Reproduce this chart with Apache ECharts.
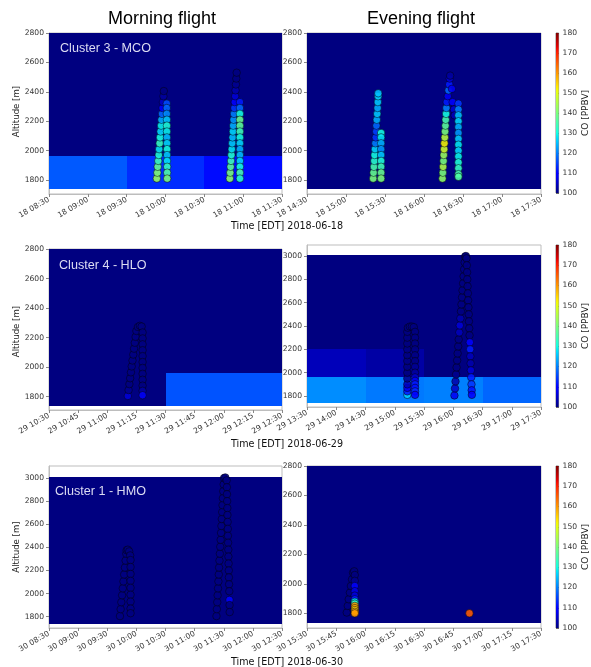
<!DOCTYPE html>
<html><head><meta charset="utf-8">
<script src="https://cdn.jsdelivr.net/npm/echarts@6/dist/echarts.min.js"></script>
<style>html,body{margin:0;padding:0;background:#fff}#c{width:591px;height:667px}</style>
</head><body><div id="c"></div>
<script>
// ---------------- DATA ----------------
const coTicks = [100, 110, 120, 130, 140, 150, 160, 170, 180];
const colorbarData = [[0, 100, 1, 180]];
const panelDays = ['18', '18', '29', '29', '30', '30'];
const xRanges = [[510, 690], [870, 1050], [630, 750], [810, 1050], [510, 750], [930, 1050]]; // minutes since midnight (EDT)
const xIntervals = [30, 30, 15, 30, 30, 15];
const yRanges = [[1705, 2800], [1705, 2800], [1710, 2800], [1706, 3094], [1702, 3104], [1700, 2800]];
const yTicksLow = [1800, 2000, 2200, 2400, 2600, 2800];
const yTicksHigh = [1800, 2000, 2200, 2400, 2600, 2800, 3000];
const panelTitles = ['Morning flight', 'Evening flight'];
const clusterLabels = ['Cluster 3 - MCO', 'Cluster 4 - HLO', 'Cluster 1 - HMO'];
const timeLabels = ['Time [EDT] 2018-06-18', 'Time [EDT] 2018-06-29', 'Time [EDT] 2018-06-30'];

// background CO cells: [t0, alt0, CO, t1, alt1]
const p1Cells = [[510,1737,117,570,1963],[570,1737,113.5,630,1963],[630,1737,110.8,690,1963],[510,1963,100,690,3010]];
const p2Cells = [[870,1737,100,1050,3010]];
const p3Cells = [[630,1737,100,690,1963],[690,1737,116.5,750,1963],[630,1963,100,750,3010]];
const p4Cells = [[810,1737,121,870,1963],[870,1737,119.5,930,1963],[930,1737,120,990,1963],[990,1737,118,1050,1963],
                 [810,1963,104,870,2200],[870,1963,102.5,930,2200],[930,1963,100,1050,2200],[810,2200,100,1050,3010]];
const p5Cells = [[510,1737,100,750,3010]];
const p6Cells = [[930,1737,100,1050,3010]];

// flight points: [time (min), altitude (m), CO (ppbv)]
const p1Points = [
 [593.3,1810,143],[593.7,1850,141],[594.0,1890,138],[594.4,1930,134],[594.8,1970,131],[595.1,2010,128],[595.5,2050,133],[595.8,2090,130],[596.2,2130,127],[596.6,2170,129],[596.9,2210,124],[597.3,2250,118],[597.7,2290,110],[598.0,2330,105],[598.4,2370,102],[598.7,2405,100],
 [601.0,2320,116],[601.0,2290,118],[601.0,2250,121],[601.1,2210,126],[601.1,2170,131],[601.1,2130,129],[601.1,2090,125],[601.2,2050,127],[601.2,2010,130],[601.2,1970,126],[601.2,1930,128],[601.3,1890,133],[601.3,1850,136],[601.3,1810,140],
 [649.7,1810,142],[650.0,1850,140],[650.3,1890,137],[650.6,1930,134],[650.9,1970,131],[651.2,2010,128],[651.5,2050,126],[651.8,2090,125],[652.1,2130,127],[652.3,2170,124],[652.6,2210,122],[652.9,2250,120],[653.2,2290,114],[653.5,2330,110],[653.8,2370,106],[654.1,2410,103],[654.4,2450,101],[654.7,2490,100],[655.0,2530,100],
 [657.5,2330,112],[657.5,2290,118],[657.5,2250,130],[657.5,2210,138],[657.5,2170,137],[657.5,2130,134],[657.5,2090,130],[657.5,2050,127],[657.5,2010,124],[657.5,1970,125],[657.5,1930,127],[657.5,1890,130],[657.5,1850,135],[657.5,1810,132]
];
const p2Points = [
 [920.9,1810,140],[921.2,1850,138],[921.5,1890,135],[921.8,1930,132],[922.0,1970,130],[922.3,2010,127],[922.6,2050,120],[922.9,2090,114],[923.2,2130,115],[923.4,2170,118],[923.7,2210,124],[924.0,2250,126],[924.3,2290,124],[924.5,2330,126],[924.7,2370,127],[924.8,2390,125],
 [927.0,2120,130],[927.0,2090,128],[927.0,2050,124],[927.0,2010,122],[927.0,1970,126],[927.0,1930,131],[927.0,1890,134],[927.0,1850,138],[927.0,1810,140],
 [974.2,1810,142],[974.5,1850,140],[974.7,1890,145],[975.0,1930,140],[975.2,1970,143],[975.5,2010,148],[975.7,2050,152],[976.0,2090,146],[976.2,2130,140],[976.5,2170,137],[976.7,2210,135],[977.0,2250,130],[977.2,2290,120],[977.5,2330,112],[978.3,2370,108],[978.9,2410,118],[979.4,2450,112],[979.8,2490,106],[980.1,2510,102],
 [981.5,2420,108],[982.0,2330,110],[983.0,2280,106],[983.5,2240,104],
 [986.5,2320,114],[986.5,2280,120],[986.5,2240,125],[986.5,2200,127],[986.5,2160,124],[986.5,2120,122],[986.5,2080,126],[986.5,2040,128],[986.5,2000,127],[986.5,1960,129],[986.5,1920,131],[986.5,1880,133],[986.5,1840,135],[986.5,1822,136]
];
const p3Points = [
 [670.6,1805,106],[671.0,1845,101],[671.4,1885,100],[671.8,1925,100],[672.2,1965,100],[672.6,2005,100],[673.0,2045,100],[673.4,2085,100],[673.8,2125,100],[674.2,2165,100],[674.6,2205,100],[675.0,2245,100],[675.8,2272,100],[676.8,2280,100],[677.7,2275,100],
 [678.2,2235,100],[678.2,2195,100],[678.2,2155,100],[678.2,2115,100],[678.2,2075,100],[678.2,2035,100],[678.2,1995,100],[678.2,1955,100],[678.2,1915,100],[678.2,1875,100],[678.2,1840,102],[678.2,1810,109]
];
const p4Points = [
 [912.9,1810,126],[912.9,1840,112],[912.9,1870,108],[912.9,1900,104],[912.9,1950,101],[912.9,2000,100],[912.9,2050,100],[912.9,2100,100],[912.9,2150,100],[912.9,2200,100],[912.9,2250,100],[912.9,2300,100],[912.9,2350,100],[913.5,2385,100],
 [915.5,2395,100],[917.5,2395,100],[919.5,2390,100],
 [920.8,2350,100],[920.8,2300,100],[920.8,2250,100],[920.8,2200,100],[920.8,2150,100],[920.8,2100,100],[920.8,2050,101],[920.8,2000,102],[920.8,1960,105],[920.8,1930,108],[920.8,1900,112],[920.8,1870,111],[920.8,1840,113],[920.8,1810,110],
 [961.2,1805,108],[961.8,1865,105],[962.3,1925,103],[962.9,1985,101],[963.4,2045,100],[964.0,2105,100],[964.5,2165,100],[965.1,2225,100],[965.6,2285,100],[966.2,2345,104],[966.7,2405,106],[967.3,2465,103],[967.9,2525,100],[968.4,2585,100],[969.0,2645,100],[969.5,2705,100],[970.1,2765,100],[970.6,2825,100],[971.2,2885,100],[971.7,2945,100],[972.2,2995,100],
 [973.0,3000,100],
 [973.6,2980,100],[973.9,2920,100],[974.2,2860,100],[974.4,2800,100],[974.7,2740,100],[975.0,2680,100],[975.3,2620,100],[975.6,2560,100],[975.9,2500,100],[976.1,2440,100],[976.4,2380,100],[976.7,2320,100],[977.0,2260,110],[977.3,2200,112],[977.5,2140,104],[977.8,2080,103],[978.1,2020,106],[978.4,1960,112],[978.7,1900,114],[978.9,1850,111],[979.1,1810,109]
];
const p5Points = [
 [583.1,1805,100],[583.8,1865,100],[584.5,1925,100],[585.3,1985,100],[586.0,2045,100],[586.7,2105,100],[587.4,2165,100],[588.2,2225,100],[588.9,2285,100],[589.6,2345,100],[590.0,2375,100],
 [591.2,2380,100],[592.6,2365,100],[593.6,2330,100],
 [594.0,2290,100],[594.0,2230,100],[594.0,2170,100],[594.0,2110,100],[594.0,2050,100],[594.0,1990,100],[594.0,1930,100],[594.0,1870,100],[594.0,1830,100],
 [682.5,1805,100],[682.9,1865,100],[683.3,1925,100],[683.7,1985,100],[684.1,2045,100],[684.5,2105,100],[684.9,2165,100],[685.2,2225,100],[685.6,2285,100],[686.0,2345,100],[686.4,2405,100],[686.8,2465,100],[687.2,2525,100],[687.6,2585,100],[688.0,2645,100],[688.4,2705,100],[688.7,2765,100],[689.1,2825,100],[689.5,2885,100],[689.9,2945,100],[690.3,3000,100],
 [691.6,3005,100],
 [693.0,2980,100],[693.2,2920,100],[693.3,2860,100],[693.5,2800,100],[693.7,2740,100],[693.8,2680,100],[694.0,2620,100],[694.2,2560,100],[694.3,2500,100],[694.5,2440,100],[694.7,2380,100],[694.8,2320,100],[695.0,2260,100],[695.2,2200,100],[695.3,2140,100],[695.5,2080,100],[695.7,2020,100],[695.9,1945,110],[696.0,1900,100],[696.1,1840,100]
];
const p6Points = [
 [950.4,1805,100],[950.9,1850,100],[951.4,1895,100],[952.0,1940,100],[952.5,1985,100],[953.1,2030,100],[953.6,2075,100],[954.2,2085,100],
 [954.5,2060,100],[954.5,2020,101],[954.5,1985,110],[954.5,1950,107],[954.5,1920,106],[954.5,1895,112],[954.5,1878,128],[954.5,1865,133],[954.5,1850,160],[954.5,1835,158],[954.5,1822,155],[954.5,1810,157],[954.5,1800,160],
 [1013.3,1800,165]
];

const allCells = [p1Cells, p2Cells, p3Cells, p4Cells, p5Cells, p6Cells];
const allPoints = [p1Points, p2Points, p3Points, p4Points, p5Points, p6Points];

// ---------------- LAYOUT ----------------
const gridBoxes = [[49,33,233,161],[307,33,234,161],[49,249,233,161],[307,245,234,162],[49,466,233,162],[307,466,234,162]];
const cbBoxes = [[556,33,8,160],[556,245,8,162],[556,466,8,162]];

// jet colormap (matplotlib definition)
function interp(t, xs, ys) {
  for (let i = 1; i < xs.length; i++) {
    if (t <= xs[i]) { const f = (t - xs[i-1]) / (xs[i] - xs[i-1]); return ys[i-1] + f * (ys[i] - ys[i-1]); }
  }
  return ys[ys.length - 1];
}
function jet(t) {
  const r = interp(t, [0, 0.35, 0.66, 0.89, 1], [0, 0, 1, 1, 0.5]);
  const g = interp(t, [0, 0.125, 0.375, 0.64, 0.91, 1], [0, 0, 1, 1, 0, 0]);
  const b = interp(t, [0, 0.11, 0.34, 0.65, 1], [0.5, 1, 1, 0, 0]);
  return 'rgb(' + Math.round(r*255) + ',' + Math.round(g*255) + ',' + Math.round(b*255) + ')';
}
const NSTOP = 48;
const jetColors = [];
const jetGradStops = [];
for (let i = 0; i <= NSTOP; i++) { jetColors.push(jet(i / NSTOP)); jetGradStops.push({offset: i / NSTOP, color: jet(i / NSTOP)}); }

const pad = n => (n < 10 ? '0' : '') + n;
function timeFmt(day) {
  return function (v) { const m = Math.round(v); return day + ' ' + pad(Math.floor(m / 60)) + ':' + pad(m % 60); };
}

const FONT = 'DejaVu Sans';
const grids = [], xAxes = [], yAxes = [], series = [];
gridBoxes.forEach((b, i) => {
  grids.push({left: b[0], top: b[1], width: b[2], height: b[3], show: true, borderColor: '#bdbdbd', borderWidth: 1, backgroundColor: 'transparent'});
  xAxes.push({type: 'value', gridIndex: i, min: xRanges[i][0], max: xRanges[i][1], interval: xIntervals[i],
    axisLine: {show: true, lineStyle: {color: '#bdbdbd'}}, axisTick: {show: true, inside: false, length: 3, lineStyle: {color: '#888'}},
    splitLine: {show: false},
    axisLabel: {rotate: 30, fontSize: 7.6, color: '#333', fontFamily: FONT, margin: 5, formatter: timeFmt(panelDays[i]), showMinLabel: true, showMaxLabel: true}});
  const yt = yRanges[i][1] > 3000 ? yTicksHigh : yTicksLow;
  yAxes.push({type: 'value', gridIndex: i, min: yRanges[i][0], max: yRanges[i][1],
    axisLine: {show: true, lineStyle: {color: '#bdbdbd'}},
    axisTick: {show: true, inside: false, length: 3, lineStyle: {color: '#888'}, customValues: yt},
    splitLine: {show: false},
    axisLabel: {fontSize: 7.6, color: '#333', fontFamily: FONT, margin: 5, customValues: yt, formatter: v => String(Math.round(v))}});
});
cbBoxes.forEach((b, k) => {
  const gi = gridBoxes.length + k;
  grids.push({left: b[0], top: b[1], width: b[2], height: b[3], show: true, borderColor: '#666', borderWidth: 0.8, backgroundColor: 'transparent'});
  xAxes.push({type: 'value', gridIndex: gi, min: 0, max: 1, show: false});
  yAxes.push({type: 'value', gridIndex: gi, position: 'right', min: coTicks[0], max: coTicks[coTicks.length-1], interval: 10,
    axisLine: {show: false}, axisTick: {show: true, inside: false, length: 3, lineStyle: {color: '#666'}},
    splitLine: {show: false},
    axisLabel: {fontSize: 7.6, color: '#333', fontFamily: FONT, margin: 4, formatter: v => String(Math.round(v))},
    name: 'CO [PPBV]', nameLocation: 'middle', nameRotate: 90, nameGap: 17,
    nameTextStyle: {fontSize: 9, color: '#222', fontFamily: FONT}});
});

function renderCell(params, api) {
  const p0 = api.coord([api.value(0), api.value(1)]);
  const p1 = api.coord([api.value(3), api.value(4)]);
  const cs = params.coordSys;
  const x0 = Math.round(p0[0]), x1 = Math.round(p1[0]), yb = Math.round(p0[1]), yt = Math.round(p1[1]);
  const shape = echarts.graphic.clipRectByRect(
    {x: x0, y: yt, width: x1 - x0, height: yb - yt},
    {x: cs.x, y: cs.y, width: cs.width, height: cs.height});
  if (!shape) return;
  return {type: 'rect', shape: shape, style: {fill: api.visual('color')}};
}
function renderBar(params, api) {
  const p0 = api.coord([api.value(0), api.value(1)]);
  const p1 = api.coord([api.value(2), api.value(3)]);
  return {type: 'rect', shape: {x: p0[0], y: p1[1], width: p1[0] - p0[0], height: p0[1] - p1[1]},
    style: {fill: new echarts.graphic.LinearGradient(0, 1, 0, 0, jetGradStops)}};
}

const colored = [];
for (let i = 0; i < 6; i++) {
  colored.push(series.length);
  series.push({type: 'custom', xAxisIndex: i, yAxisIndex: i, data: allCells[i], encode: {x: [0, 3], y: [1, 4]},
    renderItem: renderCell, silent: true, z: 1});
  colored.push(series.length);
  series.push({type: 'scatter', xAxisIndex: i, yAxisIndex: i, data: allPoints[i], symbol: 'circle', symbolSize: 7.5,
    itemStyle: {borderColor: 'rgba(0,0,20,0.75)', borderWidth: 0.8, opacity: 0.88}, silent: true, z: 2});
}
cbBoxes.forEach((b, k) => {
  const gi = gridBoxes.length + k;
  series.push({type: 'custom', xAxisIndex: gi, yAxisIndex: gi, data: colorbarData, encode: {x: [0, 2], y: [1, 3]},
    renderItem: renderBar, silent: true});
});

const graphics = [];
function txt(text, x, y, font, fill, align, rot) {
  graphics.push({type: 'text', x: x, y: y, rotation: rot || 0, silent: true, z: 200, zlevel: 0,
    style: {text: text, font: font, fill: fill, align: align, textAlign: align, verticalAlign: 'middle', textVerticalAlign: 'middle'}});
}
txt(panelTitles[0], 162, 19, '18px "Liberation Sans", Arial, sans-serif', '#000', 'center');
txt(panelTitles[1], 421, 19, '18px "Liberation Sans", Arial, sans-serif', '#000', 'center');
const clusterPos = [[60, 49], [59, 266], [55, 492]];
clusterLabels.forEach((s, k) => txt(s, clusterPos[k][0], clusterPos[k][1], '12.6px "Liberation Sans", Arial, sans-serif', '#dcdcf2', 'left'));
const rowMid = [111.5, 331.5, 547];
rowMid.forEach(y => txt('Altitude [m]', 16.5, y, '8.6px "DejaVu Sans"', '#222', 'center', Math.PI / 2));
const timeY = [226, 444, 662];
timeLabels.forEach((s, k) => txt(s, 287, timeY[k], '9.6px "DejaVu Sans"', '#111', 'center'));

const chart = echarts.init(document.getElementById('c'), null, {renderer: 'canvas'});
chart.setOption({
  animation: false,
  grid: grids, xAxis: xAxes, yAxis: yAxes,
  visualMap: [{type: 'continuous', show: false, min: 100, max: 180, dimension: 2, seriesIndex: colored, inRange: {color: jetColors}}],
  series: series,
  graphic: {elements: graphics}
});
</script></body></html>
